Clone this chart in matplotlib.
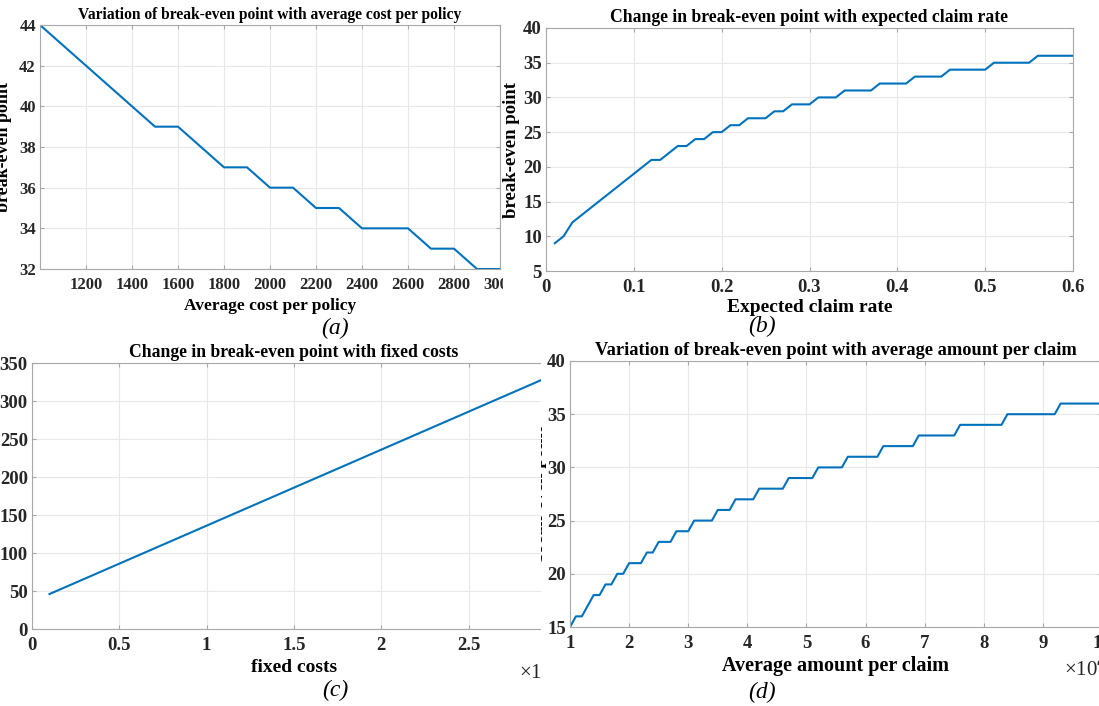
import numpy as np
import matplotlib
matplotlib.use("Agg")
from matplotlib import pyplot as plt
from matplotlib.patches import Rectangle
from matplotlib.transforms import Bbox, TransformedBbox

# (a) break-even point vs average cost per policy
cost_policy = [1000, 1100, 1200, 1300, 1400, 1500, 1600, 1700, 1800, 1900, 2000,
               2100, 2200, 2300, 2400, 2500, 2600, 2700, 2800, 2900, 3000]
bep_cost = [44, 43, 42, 41, 40, 39, 39, 38, 37, 37, 36,
            36, 35, 35, 34, 34, 34, 33, 33, 32, 32]

# (b) break-even point vs expected claim rate
claim_rate = [0.01, 0.02, 0.03, 0.04, 0.05, 0.06, 0.07, 0.08, 0.09, 0.10,
              0.11, 0.12, 0.13, 0.14, 0.15, 0.16, 0.17, 0.18, 0.19, 0.20,
              0.21, 0.22, 0.23, 0.24, 0.25, 0.26, 0.27, 0.28, 0.29, 0.30,
              0.31, 0.32, 0.33, 0.34, 0.35, 0.36, 0.37, 0.38, 0.39, 0.40,
              0.41, 0.42, 0.43, 0.44, 0.45, 0.46, 0.47, 0.48, 0.49, 0.50,
              0.51, 0.52, 0.53, 0.54, 0.55, 0.56, 0.57, 0.58, 0.59, 0.60]
bep_rate = [9, 10, 12, 13, 14, 15, 16, 17, 18, 19,
            20, 21, 21, 22, 23, 23, 24, 24, 25, 25,
            26, 26, 27, 27, 27, 28, 28, 29, 29, 29,
            30, 30, 30, 31, 31, 31, 31, 32, 32, 32,
            32, 33, 33, 33, 33, 34, 34, 34, 34, 34,
            35, 35, 35, 35, 35, 36, 36, 36, 36, 36]

# (c) break-even point vs fixed costs
fixed_costs = [0.1, 0.2, 0.3, 0.4, 0.5, 0.6, 0.7, 0.8, 0.9, 1.0,
               1.1, 1.2, 1.3, 1.4, 1.5, 1.6, 1.7, 1.8, 1.9, 2.0,
               2.1, 2.2, 2.3, 2.4, 2.5, 2.6, 2.7, 2.8, 2.9, 3.0]
bep_fixed = [46, 56, 66, 76, 86, 96, 106, 116, 126, 136,
             146, 156, 166, 176, 186, 196, 206, 216, 226, 236,
             246, 256, 266, 276, 286, 296, 306, 316, 326, 336]

# (d) break-even point vs average amount per claim
amount_claim = [1.0, 1.1, 1.2, 1.3, 1.4, 1.5, 1.6, 1.7, 1.8, 1.9,
                2.0, 2.1, 2.2, 2.3, 2.4, 2.5, 2.6, 2.7, 2.8, 2.9,
                3.0, 3.1, 3.2, 3.3, 3.4, 3.5, 3.6, 3.7, 3.8, 3.9,
                4.0, 4.1, 4.2, 4.3, 4.4, 4.5, 4.6, 4.7, 4.8, 4.9,
                5.0, 5.1, 5.2, 5.3, 5.4, 5.5, 5.6, 5.7, 5.8, 5.9,
                6.0, 6.1, 6.2, 6.3, 6.4, 6.5, 6.6, 6.7, 6.8, 6.9,
                7.0, 7.1, 7.2, 7.3, 7.4, 7.5, 7.6, 7.7, 7.8, 7.9,
                8.0, 8.1, 8.2, 8.3, 8.4, 8.5, 8.6, 8.7, 8.8, 8.9,
                9.0, 9.1, 9.2, 9.3, 9.4, 9.5, 9.6, 9.7, 9.8, 9.9, 10.0]
bep_amount = [15, 16, 16, 17, 18, 18, 19, 19, 20, 20,
              21, 21, 21, 22, 22, 23, 23, 23, 24, 24,
              24, 25, 25, 25, 25, 26, 26, 26, 27, 27,
              27, 27, 28, 28, 28, 28, 28, 29, 29, 29,
              29, 29, 30, 30, 30, 30, 30, 31, 31, 31,
              31, 31, 31, 32, 32, 32, 32, 32, 32, 33,
              33, 33, 33, 33, 33, 33, 34, 34, 34, 34,
              34, 34, 34, 34, 35, 35, 35, 35, 35, 35,
              35, 35, 35, 36, 36, 36, 36, 36, 36, 36, 36]

W, H = 1099, 706
LINE = '#0072BD'
SERIF = 'Liberation Serif'

plt.rcParams['font.family'] = SERIF
plt.rcParams['font.weight'] = 'bold'

fig = plt.figure(figsize=(W / 100, H / 100), dpi=100)


def box(left, right, top, bottom):
    # pixel box (from the top-left corner) -> figure fraction rect
    return [left / W, 1 - bottom / H, (right - left) / W, (bottom - top) / H]


def style(ax, tick_size, xpad):
    ax.grid(True, color='#e8e8e8', linewidth=0.8)
    ax.set_axisbelow(True)
    for s in ax.spines.values():
        s.set_color('#a8a8a8')
        s.set_linewidth(0.8)
    ax.tick_params(direction='in', length=3, color='#a8a8a8', top=True, right=True,
                   labelsize=tick_size, labelcolor='#262626')
    ax.tick_params(axis='x', pad=xpad)
    ax.tick_params(axis='y', pad=3)
    for lab in ax.get_xticklabels() + ax.get_yticklabels():
        lab.set_fontweight('bold')


def panel_label(x, y, s):
    fig.text(x / W, 1 - y / H, s, fontsize=17, style='italic', fontweight='normal',
             ha='center', va='center', family=SERIF, zorder=10)


# (a)
ax_a = fig.add_axes(box(40, 500, 25, 269), zorder=0)
ax_a.plot(cost_policy, bep_cost, color=LINE, linewidth=1.5)
ax_a.set_xlim(1000, 3000)
ax_a.set_ylim(32, 44)
ax_a.set_xticks(np.arange(1200, 3001, 200))
ax_a.set_yticks(np.arange(32, 45, 2))
style(ax_a, 12, 6)
ax_a.set_title('Variation of break-even point with average cost per policy',
               fontsize=11.2, fontweight='bold', pad=4)
ax_a.set_xlabel('Average cost per policy', fontsize=12.5, fontweight='bold', labelpad=3)
ax_a.set_ylabel('break-even point', fontsize=13, fontweight='bold', labelpad=5)

# white page of the right-hand top picture, covers what spills from (a)
fig.add_artist(Rectangle((503 / W, 1 - 341 / H), 1 - 503 / W, 341 / H,
                         transform=fig.transFigure, facecolor='white',
                         edgecolor='none', zorder=1))

# (b)
ax_b = fig.add_axes(box(546, 1073, 28, 271), zorder=2)
ax_b.plot(claim_rate, bep_rate, color=LINE, linewidth=1.5)
ax_b.set_xlim(0, 0.6)
ax_b.set_ylim(5, 40)
ax_b.set_xticks([0, 0.1, 0.2, 0.3, 0.4, 0.5, 0.6])
ax_b.set_xticklabels(['0', '0.1', '0.2', '0.3', '0.4', '0.5', '0.6'])
ax_b.set_yticks(np.arange(5, 41, 5))
style(ax_b, 13.5, 6)
ax_b.set_title('Change in break-even point with expected claim rate',
               fontsize=12.7, fontweight='bold', pad=4)
ax_b.set_xlabel('Expected claim rate', fontsize=14, fontweight='bold', labelpad=2)
ax_b.set_ylabel('break-even point', fontsize=13.5, fontweight='bold', labelpad=2)

# (c)
ax_c = fig.add_axes(box(32, 556, 363, 629), zorder=0)
ax_c.plot(fixed_costs, bep_fixed, color=LINE, linewidth=1.5)
ax_c.set_xlim(0, 3)
ax_c.set_ylim(0, 350)
ax_c.set_xticks([0, 0.5, 1, 1.5, 2, 2.5, 3])
ax_c.set_xticklabels(['0', '0.5', '1', '1.5', '2', '2.5', '3'])
ax_c.set_yticks(np.arange(0, 351, 50))
style(ax_c, 13.5, 6)
ax_c.set_title('Change in break-even point with fixed costs',
               fontsize=12.7, fontweight='bold', pad=4)
ax_c.set_xlabel('fixed costs', fontsize=14, fontweight='bold', labelpad=3)
ax_c.text(519 / W, 1 - 672 / H, '×10$^{5}$', transform=fig.transFigure,
          fontsize=15, fontweight='normal', ha='left', va='center', color='#262626')

# white page of the right-hand bottom picture, covers what spills from (c)
fig.add_artist(Rectangle((541 / W, 0), 1 - 541 / W, 1 - 341 / H,
                         transform=fig.transFigure, facecolor='white',
                         edgecolor='none', zorder=3))

# (d)
ax_d = fig.add_axes(box(570, 1102, 361, 627), zorder=4)
ax_d.plot(amount_claim, bep_amount, color=LINE, linewidth=1.5)
ax_d.set_xlim(1, 10)
ax_d.set_ylim(15, 40)
ax_d.set_xticks(np.arange(1, 11, 1))
ax_d.set_yticks(np.arange(15, 41, 5))
style(ax_d, 13.5, 6)
ax_d.set_title('Variation of break-even point with average amount per claim',
               fontsize=13.2, fontweight='bold', pad=4)
ax_d.set_xlabel('Average amount per claim', fontsize=14.5, fontweight='bold', labelpad=3)
ax_d.set_ylabel('break-even point', fontsize=13.5, fontweight='bold', labelpad=0)
# the picture of (d) was cropped at its left edge, so its y label only peeks out
ax_d.yaxis.label.set_clip_box(TransformedBbox(Bbox([[541 / W, 0], [1, 1]]), fig.transFigure))
ax_d.yaxis.label.set_clip_on(True)
ax_d.text(1064 / W, 1 - 669 / H, '×10$^{4}$', transform=fig.transFigure,
          fontsize=15, fontweight='normal', ha='left', va='center', color='#262626')

panel_label(335, 328, '(a)')
panel_label(762, 326, '(b)')
panel_label(335, 690, '(c)')
panel_label(762, 692, '(d)')

fig.savefig('out.png', dpi=100, facecolor='white')
